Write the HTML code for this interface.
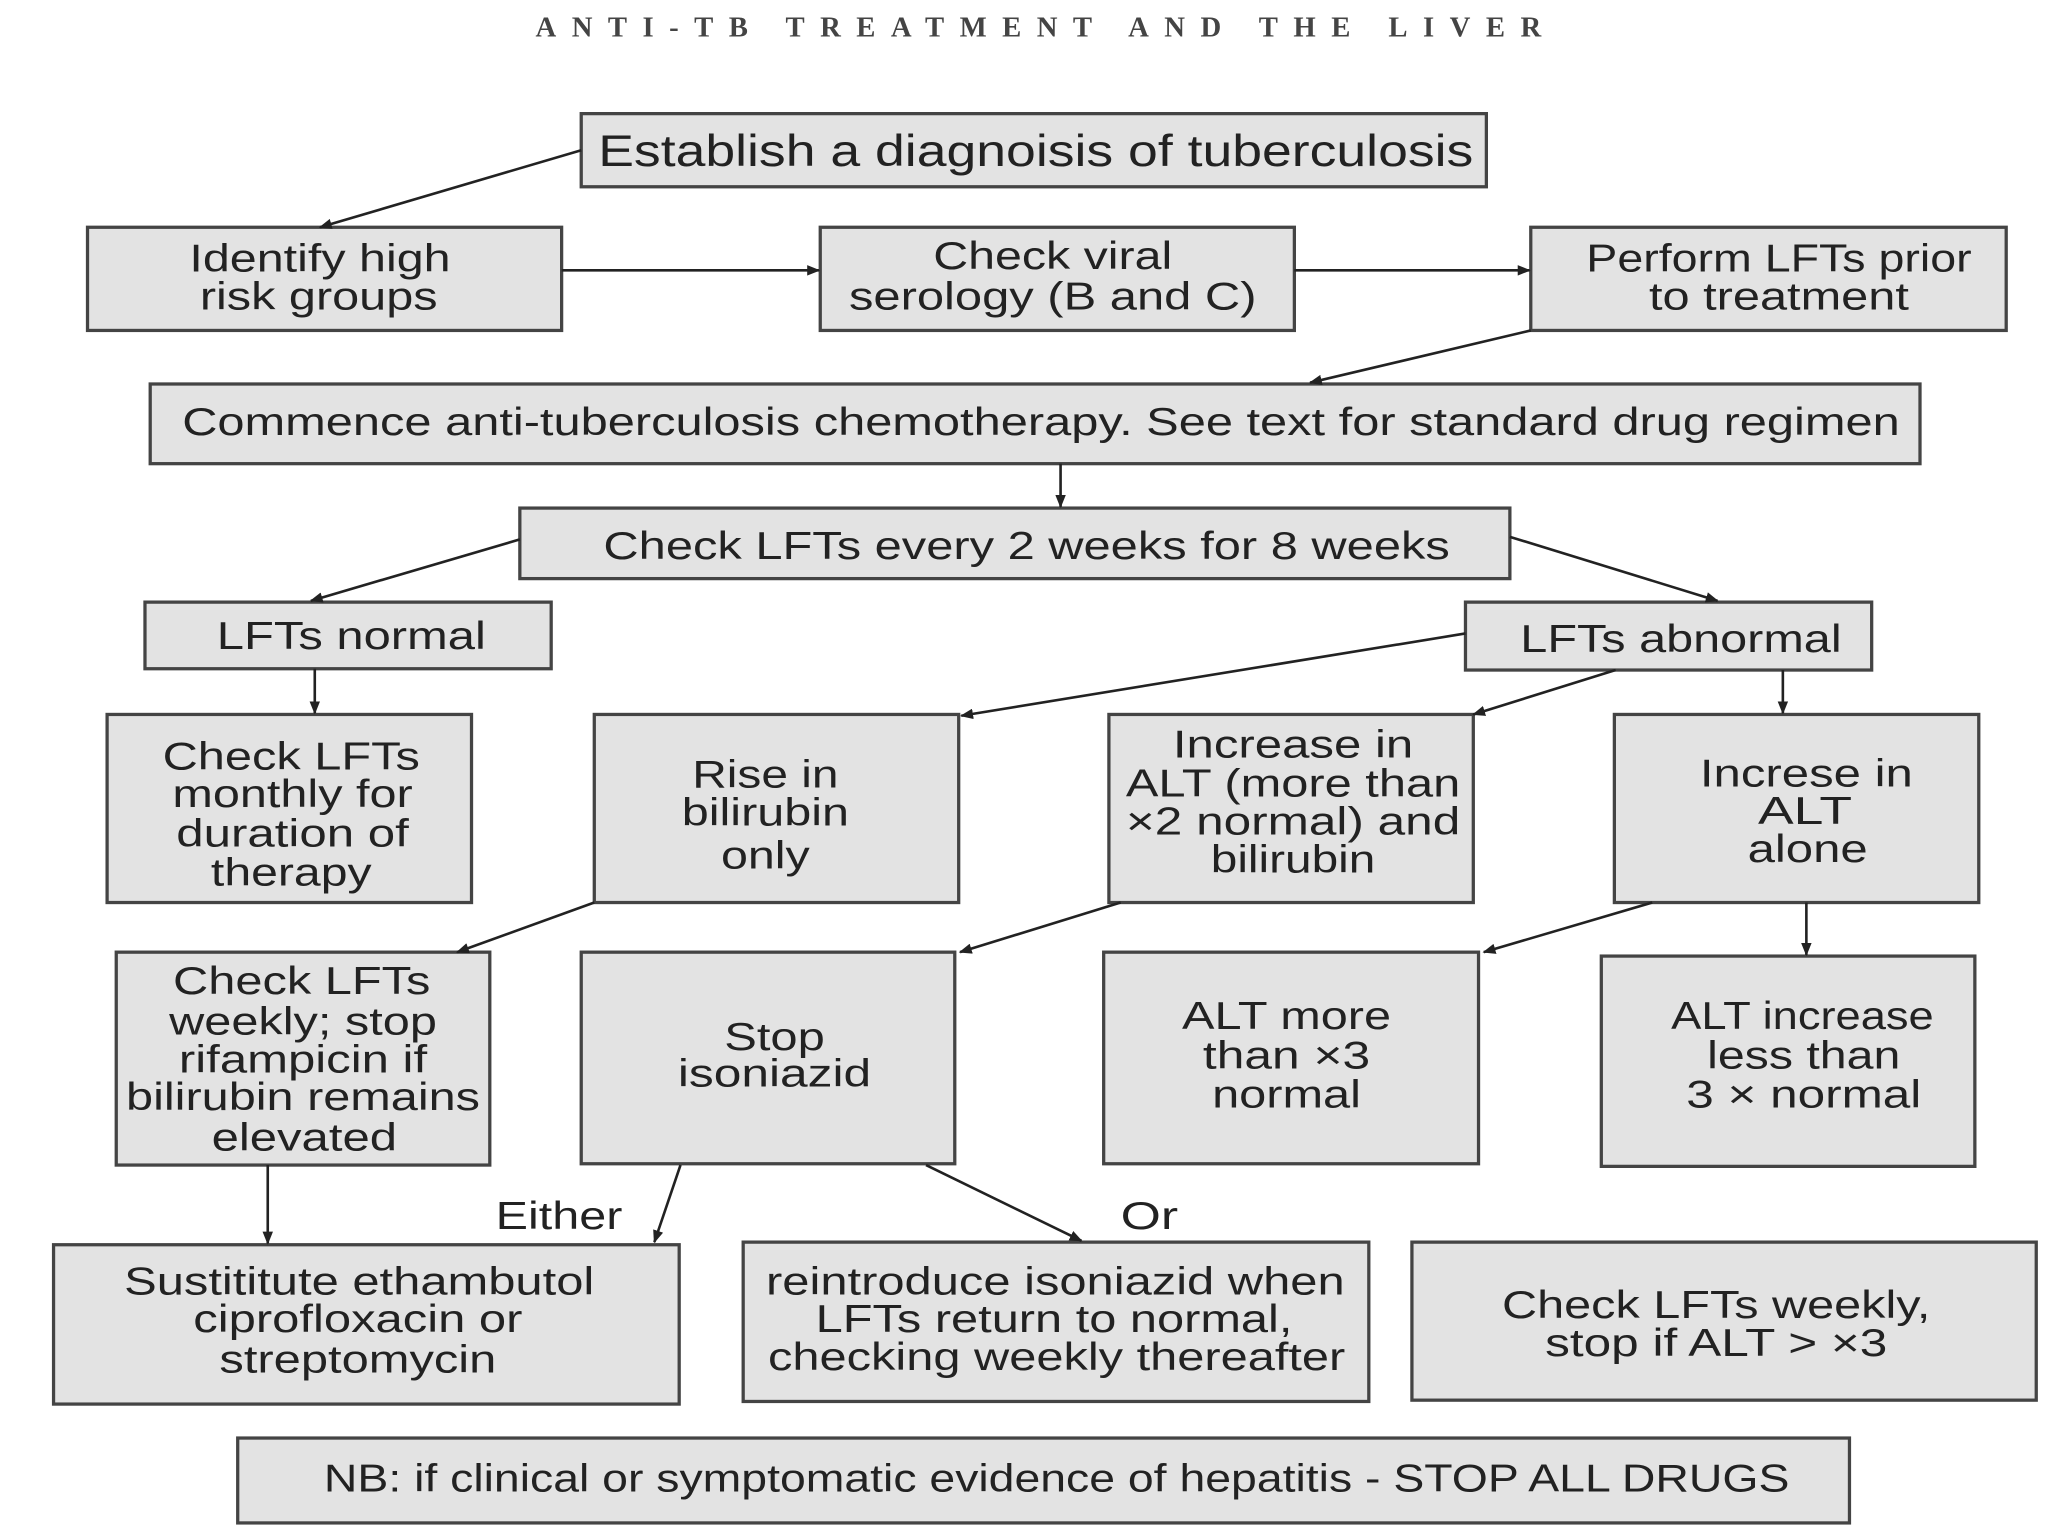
<!DOCTYPE html>
<html><head><meta charset="utf-8"><style>
html,body{margin:0;padding:0;background:#fff;}
svg{display:block}
text{font-family:"Liberation Sans",Arial,sans-serif;fill:#222;}
</style></head><body>
<svg width="2048" height="1536" viewBox="0 0 1568 1176" preserveAspectRatio="none" xmlns="http://www.w3.org/2000/svg">
<defs><marker id="a" markerWidth="10" markerHeight="8" refX="9" refY="4" orient="auto" markerUnits="userSpaceOnUse"><path d="M0,0 L10,4 L0,8 z" fill="#222"/></marker></defs>
<text x="795" y="28" text-anchor="middle" textLength="770" lengthAdjust="spacing" style="font-family:'Liberation Serif',serif;font-weight:bold;font-size:22px;fill:#444">ANTI-TB  TREATMENT  AND  THE  LIVER</text>
<g fill="#e3e3e3" stroke="#444" stroke-width="2.5">
<rect x="445" y="87" width="693" height="56"/>
<rect x="67" y="174" width="363" height="79"/>
<rect x="628" y="174" width="363" height="79"/>
<rect x="1172" y="174" width="364" height="79"/>
<rect x="115" y="294" width="1355" height="61"/>
<rect x="398" y="389" width="758" height="54"/>
<rect x="111" y="461" width="311" height="51"/>
<rect x="1122" y="461" width="311" height="52"/>
<rect x="82" y="547" width="279" height="144"/>
<rect x="455" y="547" width="279" height="144"/>
<rect x="849" y="547" width="279" height="144"/>
<rect x="1236" y="547" width="279" height="144"/>
<rect x="89" y="729" width="286" height="163"/>
<rect x="445" y="729" width="286" height="162"/>
<rect x="845" y="729" width="287" height="162"/>
<rect x="1226" y="732" width="286" height="161"/>
<rect x="41" y="953" width="479" height="122"/>
<rect x="569" y="951" width="479" height="122"/>
<rect x="1081" y="951" width="478" height="121"/>
<rect x="182" y="1101" width="1234" height="65"/>
</g>
<g stroke="#222" stroke-width="2" marker-end="url(#a)">
<line x1="445" y1="115" x2="245" y2="174"/>
<line x1="430" y1="207" x2="627" y2="207"/>
<line x1="991" y1="207" x2="1171" y2="207"/>
<line x1="1172" y1="253" x2="1003" y2="293"/>
<line x1="812" y1="355" x2="812" y2="388"/>
<line x1="398" y1="413" x2="238" y2="460"/>
<line x1="1156" y1="411" x2="1315" y2="460"/>
<line x1="241" y1="512" x2="241" y2="546"/>
<line x1="1122" y1="485" x2="736" y2="548"/>
<line x1="1237" y1="513" x2="1128" y2="547"/>
<line x1="1365" y1="513" x2="1365" y2="546"/>
<line x1="455" y1="691" x2="350" y2="729"/>
<line x1="858" y1="691" x2="735" y2="729"/>
<line x1="1265" y1="691" x2="1136" y2="729"/>
<line x1="1383" y1="691" x2="1383" y2="731"/>
<line x1="205" y1="892" x2="205" y2="952"/>
<line x1="521" y1="892" x2="501" y2="951"/>
<line x1="709" y1="892" x2="828" y2="950"/>
</g>
<g text-anchor="middle" font-size="30" lengthAdjust="spacingAndGlyphs">
<text x="793" y="127" font-size="34" textLength="670" lengthAdjust="spacingAndGlyphs">Establish a diagnoisis of tuberculosis</text>
<text x="245" y="208" textLength="200" lengthAdjust="spacingAndGlyphs">Identify high</text><text x="244" y="237" textLength="182" lengthAdjust="spacingAndGlyphs">risk groups</text>
<text x="806" y="206" textLength="183" lengthAdjust="spacingAndGlyphs">Check viral</text><text x="806" y="237" textLength="312" lengthAdjust="spacingAndGlyphs">serology (B and C)</text>
<text x="1362" y="208" textLength="295" lengthAdjust="spacingAndGlyphs">Perform LFTs prior</text><text x="1362" y="237" textLength="199" lengthAdjust="spacingAndGlyphs">to treatment</text>
<text x="797" y="333" textLength="1315" lengthAdjust="spacingAndGlyphs">Commence anti-tuberculosis chemotherapy. See text for standard drug regimen</text>
<text x="786" y="428" textLength="648" lengthAdjust="spacingAndGlyphs">Check LFTs every 2 weeks for 8 weeks</text>
<text x="269" y="497" textLength="206" lengthAdjust="spacingAndGlyphs">LFTs normal</text>
<text x="1287" y="499" textLength="246" lengthAdjust="spacingAndGlyphs">LFTs abnormal</text>
<text x="223" y="589" textLength="197" lengthAdjust="spacingAndGlyphs">Check LFTs</text><text x="224" y="618" textLength="184" lengthAdjust="spacingAndGlyphs">monthly for</text><text x="224" y="648" textLength="178" lengthAdjust="spacingAndGlyphs">duration of</text><text x="223" y="678" textLength="123" lengthAdjust="spacingAndGlyphs">therapy</text>
<text x="586" y="603" textLength="112" lengthAdjust="spacingAndGlyphs">Rise in</text><text x="586" y="632" textLength="128" lengthAdjust="spacingAndGlyphs">bilirubin</text><text x="586" y="665" textLength="68" lengthAdjust="spacingAndGlyphs">only</text>
<text x="990" y="580" textLength="184" lengthAdjust="spacingAndGlyphs">Increase in</text><text x="990" y="610" textLength="256" lengthAdjust="spacingAndGlyphs">ALT (more than</text><text x="990" y="639" textLength="256" lengthAdjust="spacingAndGlyphs">×2 normal) and</text><text x="990" y="668" textLength="126" lengthAdjust="spacingAndGlyphs">bilirubin</text>
<text x="1383" y="602" textLength="163" lengthAdjust="spacingAndGlyphs">Increse in</text><text x="1382" y="631" textLength="72" lengthAdjust="spacingAndGlyphs">ALT</text><text x="1384" y="660" textLength="92" lengthAdjust="spacingAndGlyphs">alone</text>
<text x="231" y="761" textLength="197" lengthAdjust="spacingAndGlyphs">Check LFTs</text><text x="232" y="792" textLength="205" lengthAdjust="spacingAndGlyphs">weekly; stop</text><text x="232" y="821" textLength="190" lengthAdjust="spacingAndGlyphs">rifampicin if</text><text x="232" y="850" textLength="271" lengthAdjust="spacingAndGlyphs">bilirubin remains</text><text x="233" y="881" textLength="142" lengthAdjust="spacingAndGlyphs">elevated</text>
<text x="593" y="804" textLength="77" lengthAdjust="spacingAndGlyphs">Stop</text><text x="593" y="832" textLength="148" lengthAdjust="spacingAndGlyphs">isoniazid</text>
<text x="985" y="788" textLength="160" lengthAdjust="spacingAndGlyphs">ALT more</text><text x="985" y="818" textLength="128" lengthAdjust="spacingAndGlyphs">than ×3</text><text x="985" y="848" textLength="114" lengthAdjust="spacingAndGlyphs">normal</text>
<text x="1380" y="788" textLength="201" lengthAdjust="spacingAndGlyphs">ALT increase</text><text x="1381" y="818" textLength="148" lengthAdjust="spacingAndGlyphs">less than</text><text x="1381" y="848" textLength="180" lengthAdjust="spacingAndGlyphs">3 × normal</text>
<text x="275" y="991" textLength="360" lengthAdjust="spacingAndGlyphs">Sustititute ethambutol</text><text x="274" y="1020" textLength="252" lengthAdjust="spacingAndGlyphs">ciprofloxacin or</text><text x="274" y="1051" textLength="212" lengthAdjust="spacingAndGlyphs">streptomycin</text>
<text x="808" y="991" textLength="443" lengthAdjust="spacingAndGlyphs">reintroduce isoniazid when</text><text x="807" y="1020" textLength="365" lengthAdjust="spacingAndGlyphs">LFTs return to normal,</text><text x="809" y="1049" textLength="442" lengthAdjust="spacingAndGlyphs">checking weekly thereafter</text>
<text x="1314" y="1009" textLength="328" lengthAdjust="spacingAndGlyphs">Check LFTs weekly,</text><text x="1314" y="1038" textLength="262" lengthAdjust="spacingAndGlyphs">stop if ALT &gt; ×3</text>
<text x="809" y="1142" textLength="1122" lengthAdjust="spacingAndGlyphs">NB: if clinical or symptomatic evidence of hepatitis - STOP ALL DRUGS</text>
<text x="428" y="941" textLength="97" lengthAdjust="spacingAndGlyphs">Either</text>
<text x="880" y="941" textLength="44" lengthAdjust="spacingAndGlyphs">Or</text>
</g>
</svg>
</body></html>
